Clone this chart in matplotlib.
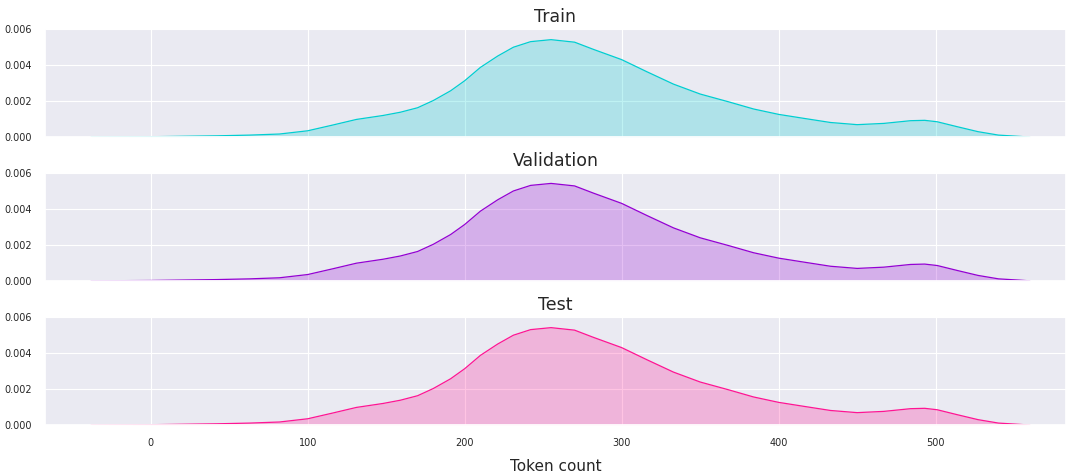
import numpy as np
import matplotlib; matplotlib.use('Agg'); import matplotlib.pyplot as plt
import seaborn as sns

# token-count density curves (x = tokens, y = density)
token_x = [-38, -20, 0, 42, 63, 82, 100, 116, 131, 148, 159, 170, 180, 191, 200, 210, 221,
           231, 242, 255, 270, 282, 300, 316, 333, 350, 368, 384, 400, 416, 433, 450, 467,
           484, 493, 501, 514, 527, 540, 553, 560]
train_density = [0.0, 0.00001, 0.00002, 0.00007, 0.00011, 0.00017, 0.00035, 0.00067, 0.00098,
                 0.00120, 0.00138, 0.00163, 0.00203, 0.00257, 0.00313, 0.00387, 0.00450,
                 0.00499, 0.00530, 0.00541, 0.00527, 0.00487, 0.00430, 0.00363, 0.00294,
                 0.00239, 0.00196, 0.00156, 0.00126, 0.00104, 0.00081, 0.00069, 0.00076,
                 0.00091, 0.00093, 0.00085, 0.00057, 0.00030, 0.00011, 0.00004, 0.0]
val_density = list(train_density)
test_density = list(train_density)

splits = ['Train', 'Validation', 'Test']
densities = [train_density, val_density, test_density]
colors = ['darkturquoise', 'darkviolet', 'deeppink']

sns.set_theme(style='darkgrid', rc={'grid.linewidth': 0.8})
fig = plt.figure(figsize=(10.66, 4.76), dpi=100)
bottoms = [0.712, 0.410, 0.107]
for i, (name, dens, col) in enumerate(zip(splits, densities, colors)):
    ax = fig.add_axes([0.042, bottoms[i], 0.958, 0.227])
    ax.fill_between(token_x, dens, 0, color=col, alpha=0.25, lw=0)
    ax.plot(token_x, dens, color=col, lw=0.9, solid_joinstyle='round')
    ax.set_xlim(-67.5, 583)
    ax.set_ylim(0, 0.006)
    ax.set_yticks([0, 0.002, 0.004, 0.006])
    ax.set_yticklabels(['0.000', '0.002', '0.004', '0.006'], fontsize=7)
    ax.set_xticks([0, 100, 200, 300, 400, 500])
    ax.set_title(name, fontsize=12.5, pad=5)
    ax.tick_params(axis='both', pad=3)
    if i < 2:
        ax.set_xticklabels([])
    else:
        ax.set_xticklabels(['0', '100', '200', '300', '400', '500'], fontsize=7)
        ax.set_xlabel('Token count', fontsize=11, labelpad=8)

plt.savefig('out.png', dpi=100)
